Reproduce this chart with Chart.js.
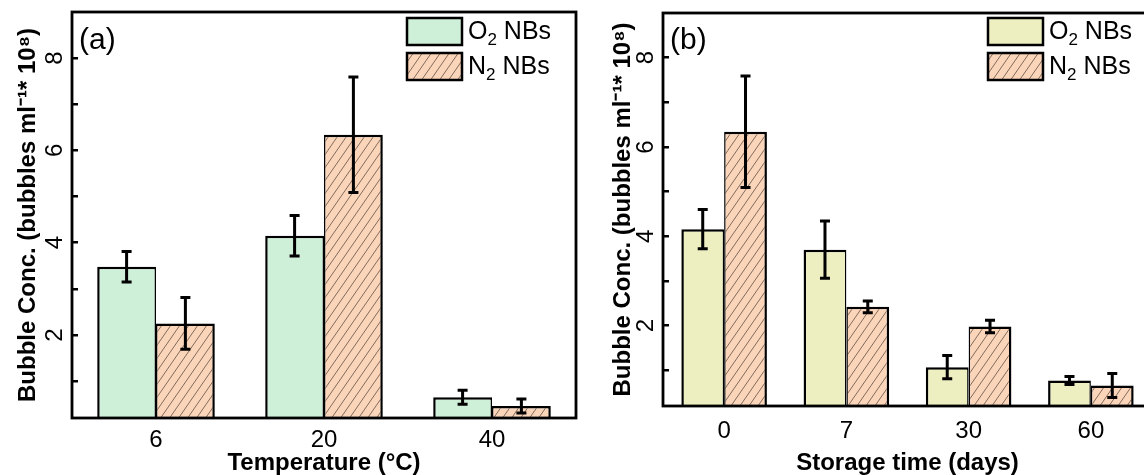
<!DOCTYPE html>
<html>
<head>
<meta charset="utf-8">
<script src="https://cdn.jsdelivr.net/npm/chart.js@4.4.0/dist/chart.umd.min.js"></script>
<style>
  html, body { margin: 0; padding: 0; background: #fff; overflow: hidden; }
  #wrap { position: relative; width: 1144px; height: 475px; overflow: hidden; }
  canvas { position: absolute; top: 0; }
  #chartA { left: 0; }
  #chartB { left: 580px; }
</style>
</head>
<body>
<div id="wrap">
  <canvas id="chartA" width="580" height="475"></canvas>
  <canvas id="chartB" width="580" height="475"></canvas>
</div>
<script>
// panel (a) - temperature
const tempLabels = ['6', '20', '40'];
const tempO2 = [3.48, 4.15, 0.65];
const tempO2Err = [0.33, 0.44, 0.15];
const tempN2 = [2.25, 6.34, 0.46];
const tempN2Err = [0.56, 1.25, 0.15];

// panel (b) - storage time
const storageLabels = ['0', '7', '30', '60'];
const storageO2 = [4.16, 3.70, 1.07, 0.77];
const storageO2Err = [0.44, 0.64, 0.26, 0.09];
const storageN2 = [6.34, 2.42, 1.98, 0.66];
const storageN2Err = [1.25, 0.13, 0.14, 0.27];

const yTitle = 'Bubble Conc. (bubbles ml\u207B\u00B9* 10\u2078)';
const FONT = '"Liberation Sans", Arial, sans-serif';

Chart.defaults.font.family = FONT;
Chart.defaults.color = '#000';

function hatch(bg) {
    const c = document.createElement('canvas');
    c.width = 9; c.height = 13;
    const g = c.getContext('2d');
    g.fillStyle = bg;
    g.fillRect(0, 0, 9, 13);
    g.strokeStyle = 'rgba(90,70,60,0.75)';
    g.lineWidth = 1;
    g.beginPath();
    for (let k = -1; k <= 1; k++) {
        g.moveTo(9 * k, 13);
        g.lineTo(9 * k + 9, 0);
    }
    g.stroke();
    return g.createPattern(c, 'repeat');
}

const errorBars = {
    id: 'errorBars',
    afterDatasetsDraw(chart) {
        const ctx = chart.ctx;
        const y = chart.scales.y;
        ctx.save();
        ctx.strokeStyle = '#000';
        ctx.lineWidth = 3;
        chart.data.datasets.forEach((ds, i) => {
            chart.getDatasetMeta(i).data.forEach((bar, j) => {
                const v = ds.data[j], e = ds.errors[j];
                const top = y.getPixelForValue(v + e), bot = y.getPixelForValue(v - e);
                ctx.beginPath();
                ctx.moveTo(bar.x, top); ctx.lineTo(bar.x, bot);
                ctx.moveTo(bar.x - 5, top); ctx.lineTo(bar.x + 5, top);
                ctx.moveTo(bar.x - 5, bot); ctx.lineTo(bar.x + 5, bot);
                ctx.stroke();
            });
        });
        ctx.restore();
    }
};

const frame = {
    id: 'frame',
    afterDatasetsDraw(chart) {
        const a = chart.chartArea, ctx = chart.ctx;
        ctx.save();
        ctx.strokeStyle = '#000';
        ctx.lineWidth = 2.8;
        ctx.strokeRect(a.left, a.top, a.right - a.left, a.bottom - a.top);
        ctx.restore();
    }
};

// legend boxes inside the plot, with subscript in the gas name
const boxLegend = {
    id: 'boxLegend',
    afterDraw(chart, args, o) {
        const ctx = chart.ctx;
        ctx.save();
        chart.data.datasets.forEach((ds, i) => {
            const bx = o.x, by = o.y + i * 35;
            ctx.fillStyle = ds.backgroundColor;
            ctx.fillRect(bx, by, 55, 27);
            ctx.lineWidth = 2.5;
            ctx.strokeStyle = '#000';
            ctx.strokeRect(bx, by, 55, 27);
            const m = ds.label.match(/^(\D+)(\d)(.*)$/);
            let tx = bx + 61;
            const ty = by + 14;
            ctx.fillStyle = '#000';
            ctx.textAlign = 'left';
            ctx.textBaseline = 'middle';
            ctx.font = '25px ' + FONT;
            ctx.fillText(m[1], tx, ty);
            tx += ctx.measureText(m[1]).width;
            ctx.font = '17px ' + FONT;
            ctx.fillText(m[2], tx, ty + 8);
            tx += ctx.measureText(m[2]).width;
            ctx.font = '25px ' + FONT;
            ctx.fillText(m[3], tx, ty);
        });
        ctx.font = '30px ' + FONT;
        ctx.textBaseline = 'middle';
        ctx.fillText(o.panel, chart.chartArea.left + 7, 41);
        ctx.restore();
    }
};

function makeChart(id, labels, o2, o2Err, n2, n2Err, o2Color, cfg) {
    return new Chart(document.getElementById(id), {
        type: 'bar',
        data: {
            labels: labels,
            datasets: [{
                label: 'O2 NBs',
                data: o2,
                errors: o2Err,
                backgroundColor: o2Color,
                borderColor: '#000',
                borderWidth: { left: 2.5, top: 2.5, right: 1.5, bottom: 0 },
                categoryPercentage: 0.7,
                barPercentage: 1.0
            }, {
                label: 'N2 NBs',
                data: n2,
                errors: n2Err,
                backgroundColor: hatch('rgb(250,213,186)'),
                borderColor: '#000',
                borderWidth: { left: 1.5, top: 2.5, right: 2.5, bottom: 0 },
                categoryPercentage: 0.7,
                barPercentage: 1.0
            }]
        },
        options: {
            responsive: false,
            animation: false,
            devicePixelRatio: 1,
            layout: { padding: { top: cfg.top, right: cfg.right, left: 0, bottom: 0 } },
            plugins: {
                legend: { display: false },
                tooltip: { enabled: false },
                boxLegend: { x: cfg.legendX, y: 18, panel: cfg.panel }
            },
            scales: {
                x: {
                    afterFit: s => { s.height = cfg.xHeight; s.paddingLeft = 0; s.paddingRight = 0; },
                    border: { display: false },
                    grid: { display: false, drawTicks: false },
                    ticks: { font: { size: 24 }, color: '#000', padding: cfg.xPad, maxRotation: 0 },
                    title: {
                        display: true, text: cfg.xTitle, color: '#000',
                        font: { size: 24, weight: 'bold', lineHeight: 1.2 },
                        padding: { top: 0, bottom: -3 }
                    }
                },
                y: {
                    min: 0.2,
                    max: 9,
                    afterFit: s => { s.width = cfg.yWidth; s.paddingTop = 0; s.paddingBottom = 0; },
                    border: { display: false },
                    grid: {
                        drawOnChartArea: false,
                        tickLength: -6,
                        lineWidth: 2.5,
                        color: c => (c.tick && c.tick.value >= 1 && c.tick.value <= 8) ? '#000' : 'rgba(0,0,0,0)'
                    },
                    ticks: {
                        stepSize: 1,
                        includeBounds: false,
                        minRotation: 90,
                        maxRotation: 90,
                        crossAlign: 'center',
                        padding: 16,
                        font: { size: 24 },
                        color: '#000',
                        callback: v => (v % 2 === 0 && v > 0 && v < 9) ? String(v) : ''
                    },
                    title: {
                        display: true, text: yTitle, color: '#000',
                        font: { size: 24, weight: 'bold', lineHeight: 1.2 },
                        padding: { top: cfg.yTitlePad, bottom: 0 }
                    }
                }
            }
        },
        plugins: [frame, errorBars, boxLegend]
    });
}

makeChart('chartA', tempLabels, tempO2, tempO2Err, tempN2, tempN2Err, 'rgb(206,240,216)', {
    top: 12, right: 4, xHeight: 57, yWidth: 72, xPad: 8, yTitlePad: 14,
    legendX: 407, panel: '(a)', xTitle: 'Temperature (\u00B0C)'
});

makeChart('chartB', storageLabels, storageO2, storageO2Err, storageN2, storageN2Err, 'rgb(238,239,192)', {
    top: 13, right: 8, xHeight: 69, yWidth: 83, xPad: 11, yTitlePad: 29,
    legendX: 408, panel: '(b)', xTitle: 'Storage time (days)'
});
</script>
</body>
</html>
